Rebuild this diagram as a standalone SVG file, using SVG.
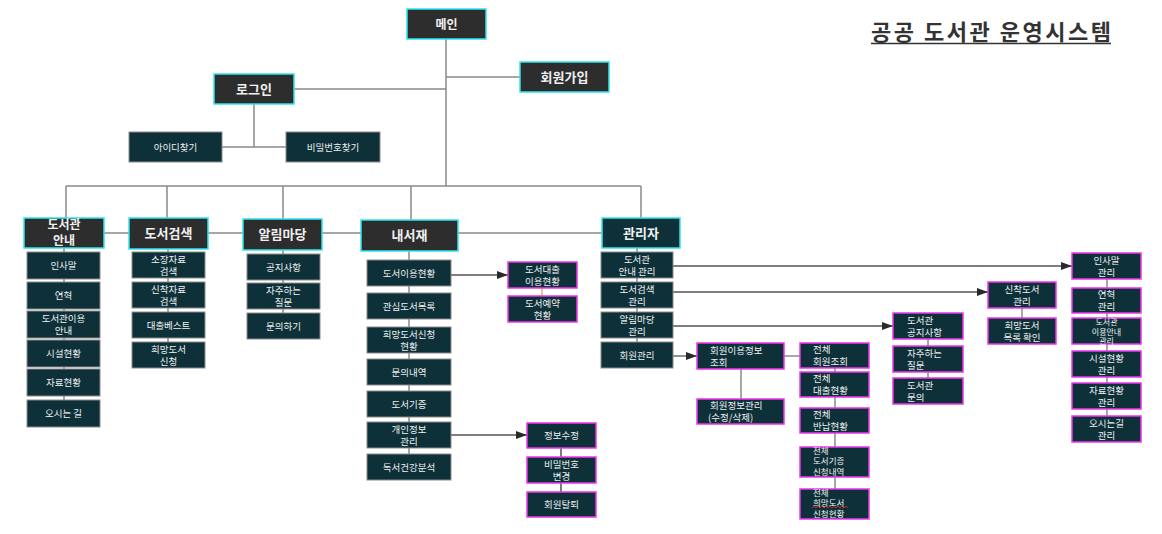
<svg xmlns="http://www.w3.org/2000/svg" width="1162" height="534" viewBox="0 0 1162 534">
<style>
text{font-family:"Noto Sans CJK KR","Noto Sans",sans-serif;fill:#f0f0f0;text-anchor:middle}
.l{text-anchor:start}
.h{font-size:13px;font-weight:bold}
.s{font-size:9.5px}
.t{font-size:8.5px}
.hd{fill:#2d2d2d;stroke:#2ee6f0;stroke-width:1.5}
.ht{fill:#0d3039;stroke:#2ee6f0;stroke-width:1.5}
.sb{fill:#0d3039;stroke:#8c8c8c;stroke-width:1}
.mg{fill:#0d3039;stroke:#ee36ee;stroke-width:1.5}
.ln{stroke:#8a8a8a;stroke-width:1.5;fill:none}
.ar{stroke:#555;stroke-width:1.3;fill:none;marker-end:url(#ah)}
.bk{stroke:#333;stroke-width:1.3;fill:none}
</style>
<defs>
<marker id="ah" markerUnits="userSpaceOnUse" markerWidth="12" markerHeight="10" refX="11" refY="4" orient="auto">
<path d="M0,0 L11,4 L0,8 z" fill="#2a2a2a"/>
</marker>
</defs>
<rect width="1162" height="534" fill="#fff"/>
<g id="title">
<text x="871" y="40" class="l" style="font-size:22px;font-weight:bold;fill:#333" textLength="240" lengthAdjust="spacing">공공 도서관 운영시스템</text>
<path d="M871,43.5H1111" stroke="#333" stroke-width="1.6"/>
</g>
<g id="connectors">
<path class="ln" d="M446,39V186M294,89H446M446,77H520M254,104V147M222,147H286M66,186H641M66,186V218M167,186V218M283,186V219M411,186V220M641,186V218M104,233H129M208,233H243M322,233H361M458,233H602"/>
<path class="ln" d="M64,248V400M168,249V342M283,250V313M409,251V454M637,248V342"/>
<path class="ln" d="M741,369V399M784,356H800M835,368V489M928,339V378M1022,308V318M1107,279V416"/>
<path d="M542,288V296" stroke="#f0a040" stroke-width="1.3"/>
<path class="bk" d="M561,448V492"/>
<path class="ar" d="M451,275H508"/>
<path class="ar" d="M451,435H527"/>
<path class="ar" d="M673,266H1072"/>
<path class="ar" d="M673,292H988"/>
<path class="ar" d="M673,326H893"/>
<path class="ar" d="M673,356H697"/>
</g>
<g id="main"><rect class="hd" x="407" y="9" width="79" height="30"/><text class="h" style="font-size:12px" x="446.5" y="28.5">메인</text></g>
<g id="login"><rect class="hd" x="214" y="74" width="80" height="30"/><text class="h" x="254" y="93.5">로그인</text></g>
<g id="join"><rect class="hd" x="520" y="62" width="89" height="30"/><text class="h" x="564.5" y="81.5">회원가입</text></g>
<g id="findid"><rect class="sb" x="129" y="132" width="93" height="30"/><text class="s" x="175.5" y="150.5">아이디찾기</text></g>
<g id="findpw"><rect class="sb" x="286" y="132" width="94" height="30"/><text class="s" x="333" y="150.5">비밀번호찾기</text></g>

<g id="guide"><rect class="hd" x="24" y="218" width="80" height="30"/><text class="h" style="font-size:12px" x="64" y="229">도서관</text><text class="h" style="font-size:12px" x="64" y="245">안내</text></g>
<g id="search"><rect class="hd" x="129" y="218" width="79" height="31"/><text class="h" x="168.5" y="238">도서검색</text></g>
<g id="notice"><rect class="hd" x="243" y="219" width="79" height="31"/><text class="h" x="282.5" y="239">알림마당</text></g>
<g id="mylib"><rect class="hd" x="361" y="220" width="97" height="31"/><text class="h" x="409.5" y="240">내서재</text></g>
<g id="admin"><rect class="ht" x="602" y="218" width="78" height="30"/><text class="h" x="641" y="237.5">관리자</text></g>

<g id="g1"><rect class="sb" x="27" y="252" width="73" height="27"/><text class="s" x="63.5" y="269">인사말</text></g>
<g id="g2"><rect class="sb" x="27" y="282" width="73" height="27"/><text class="s" x="63.5" y="299">연혁</text></g>
<g id="g3"><rect class="sb" x="27" y="311" width="73" height="27"/><text class="s" x="63.5" y="322">도서관이용</text><text class="s" x="63.5" y="334">안내</text></g>
<g id="g4"><rect class="sb" x="27" y="340" width="73" height="27"/><text class="s" x="63.5" y="357">시설현황</text></g>
<g id="g5"><rect class="sb" x="27" y="369" width="73" height="27"/><text class="s" x="63.5" y="386">자료현황</text></g>
<g id="g6"><rect class="sb" x="27" y="400" width="73" height="27"/><text class="s" x="63.5" y="417">오시는 길</text></g>

<g id="s1"><rect class="sb" x="132" y="252" width="73" height="26"/><text class="s" x="168.5" y="262.5">소장자료</text><text class="s" x="168.5" y="274.5">검색</text></g>
<g id="s2"><rect class="sb" x="132" y="282" width="73" height="26"/><text class="s" x="168.5" y="292.5">신착자료</text><text class="s" x="168.5" y="304.5">검색</text></g>
<g id="s3"><rect class="sb" x="132" y="312" width="73" height="26"/><text class="s" x="168.5" y="328.5">대출베스트</text></g>
<g id="s4"><rect class="sb" x="132" y="342" width="73" height="26"/><text class="s" x="168.5" y="352.5">희망도서</text><text class="s" x="168.5" y="364.5">신청</text></g>

<g id="n1"><rect class="sb" x="247" y="254" width="73" height="26"/><text class="s" x="283.5" y="270.5">공지사항</text></g>
<g id="n2"><rect class="sb" x="247" y="283" width="73" height="26"/><text class="s" x="283.5" y="293.5">자주하는</text><text class="s" x="283.5" y="305.5">질문</text></g>
<g id="n3"><rect class="sb" x="247" y="313" width="73" height="26"/><text class="s" x="283.5" y="329.5">문의하기</text></g>

<g id="m1"><rect class="sb" x="367" y="260" width="84" height="26"/><text class="s" x="409" y="276.5">도서이용현황</text></g>
<g id="m2"><rect class="sb" x="367" y="293" width="84" height="26"/><text class="s" x="409" y="309.5">관심도서목록</text></g>
<g id="m3"><rect class="sb" x="367" y="327" width="84" height="26"/><text class="s" x="409" y="337.5">희망도서신청</text><text class="s" x="409" y="349.5">현황</text></g>
<g id="m4"><rect class="sb" x="367" y="359" width="84" height="26"/><text class="s" x="409" y="375.5">문의내역</text></g>
<g id="m5"><rect class="sb" x="367" y="391" width="84" height="26"/><text class="s" x="409" y="407.5">도서기증</text></g>
<g id="m6"><rect class="sb" x="367" y="422" width="84" height="26"/><text class="s" x="409" y="432.5">개인정보</text><text class="s" x="409" y="444.5">관리</text></g>
<g id="m7"><rect class="sb" x="367" y="454" width="84" height="26"/><text class="s" x="409" y="470.5">독서건강분석</text></g>

<g id="m1a"><rect class="mg" x="508" y="262" width="69" height="26"/><text class="s" x="542.5" y="272.5">도서대출</text><text class="s" x="542.5" y="284.5">이용현황</text></g>
<g id="m1b"><rect class="mg" x="508" y="296" width="69" height="26"/><text class="s" x="542.5" y="306.5">도서예약</text><text class="s" x="542.5" y="318.5">현황</text></g>
<g id="m6a"><rect class="mg" x="527" y="423" width="69" height="25"/><text class="s" x="561.5" y="439">정보수정</text></g>
<g id="m6b"><rect class="mg" x="527" y="457" width="69" height="26"/><text class="s" x="561.5" y="467.5">비밀번호</text><text class="s" x="561.5" y="479.5">변경</text></g>
<g id="m6c"><rect class="mg" x="527" y="492" width="69" height="25"/><text class="s" x="561.5" y="508">회원탈퇴</text></g>

<g id="a1"><rect class="sb" x="601" y="252" width="72" height="26"/><text class="s" x="637" y="262.5">도서관</text><text class="s" x="637" y="274.5">안내 관리</text></g>
<g id="a2"><rect class="sb" x="601" y="282" width="72" height="26"/><text class="s" x="637" y="292.5">도서검색</text><text class="s" x="637" y="304.5">관리</text></g>
<g id="a3"><rect class="sb" x="601" y="312" width="72" height="26"/><text class="s" x="637" y="322.5">알림마당</text><text class="s" x="637" y="334.5">관리</text></g>
<g id="a4"><rect class="sb" x="601" y="342" width="72" height="26"/><text class="s" x="637" y="358.5">회원관리</text></g>

<g id="u1"><rect class="mg" x="697" y="343" width="87" height="26"/><text class="s l" x="710" y="353.5">회원이용정보</text><text class="s l" x="710" y="365.5">조회</text></g>
<g id="u2"><rect class="mg" x="697" y="399" width="87" height="25"/><text class="s l" x="710" y="409">회원정보관리</text><text class="s l" x="708" y="421">(수정/삭제)</text></g>
<g id="w1"><rect class="mg" x="800" y="343" width="69" height="25"/><text class="s l" x="813" y="353">전체</text><text class="s l" x="813" y="365">회원조회</text></g>
<g id="w2"><rect class="mg" x="800" y="372" width="69" height="25"/><text class="s l" x="813" y="382">전체</text><text class="s l" x="813" y="394">대출현황</text></g>
<g id="w3"><rect class="mg" x="800" y="408" width="69" height="25"/><text class="s l" x="813" y="418">전체</text><text class="s l" x="813" y="430">반납현황</text></g>
<g id="w4"><rect class="mg" x="800" y="447" width="69" height="30"/><text class="t l" x="813" y="453.5">전체</text><text class="t l" x="813" y="464">도서기증</text><text class="t l" x="813" y="474.5">신청내역</text></g>
<g id="w5"><rect class="mg" x="800" y="489" width="69" height="30"/><text class="t l" x="813" y="495.5">전체</text><text class="t l" x="813" y="506">희망도서</text><text class="t l" x="813" y="516.5">신청현황</text>
<path d="M812,508 l2,-2 l2,2 l2,-2 l2,2 l2,-2 l2,2 l2,-2 l2,2 l2,-2 l2,2 l2,-2 l2,2 l2,-2 l2,2 l2,-2 l2,2 l2,-2 l2,2" stroke="#e03030" stroke-width="0.8" fill="none"/></g>

<g id="b1"><rect class="mg" x="893" y="313" width="70" height="26"/><text class="s l" x="907" y="323.5">도서관</text><text class="s l" x="907" y="335.5">공지사항</text></g>
<g id="b2"><rect class="mg" x="893" y="346" width="70" height="26"/><text class="s l" x="907" y="356.5">자주하는</text><text class="s l" x="907" y="368.5">질문</text></g>
<g id="b3"><rect class="mg" x="893" y="378" width="70" height="26"/><text class="s l" x="907" y="388.5">도서관</text><text class="s l" x="907" y="400.5">문의</text></g>

<g id="c1"><rect class="mg" x="988" y="282" width="68" height="26"/><text class="s" x="1022" y="292.5">신착도서</text><text class="s" x="1022" y="304.5">관리</text></g>
<g id="c2"><rect class="mg" x="988" y="318" width="68" height="26"/><text class="s" x="1022" y="328.5">희망도서</text><text class="s" x="1022" y="340.5">목록 확인</text></g>

<g id="r1"><rect class="mg" x="1072" y="253" width="69" height="26"/><text class="s" x="1106.5" y="263.5">인사말</text><text class="s" x="1106.5" y="275.5">관리</text></g>
<g id="r2"><rect class="mg" x="1072" y="288" width="69" height="25"/><text class="s" x="1106.5" y="298">연혁</text><text class="s" x="1106.5" y="310">관리</text></g>
<g id="r3"><rect class="mg" x="1072" y="318" width="69" height="26"/><text style="font-size:8px" x="1106.5" y="324.5">도서관</text><text style="font-size:8px" x="1106.5" y="334.5">이용안내</text><text style="font-size:8px" x="1106.5" y="344">관리</text></g>
<g id="r4"><rect class="mg" x="1072" y="351" width="69" height="26"/><text class="s" x="1106.5" y="361.5">시설현황</text><text class="s" x="1106.5" y="373.5">관리</text></g>
<g id="r5"><rect class="mg" x="1072" y="383" width="69" height="26"/><text class="s" x="1106.5" y="393.5">자료현황</text><text class="s" x="1106.5" y="405.5">관리</text></g>
<g id="r6"><rect class="mg" x="1072" y="416" width="69" height="26"/><text class="s" x="1106.5" y="426.5">오시는길</text><text class="s" x="1106.5" y="438.5">관리</text></g>
</svg>
